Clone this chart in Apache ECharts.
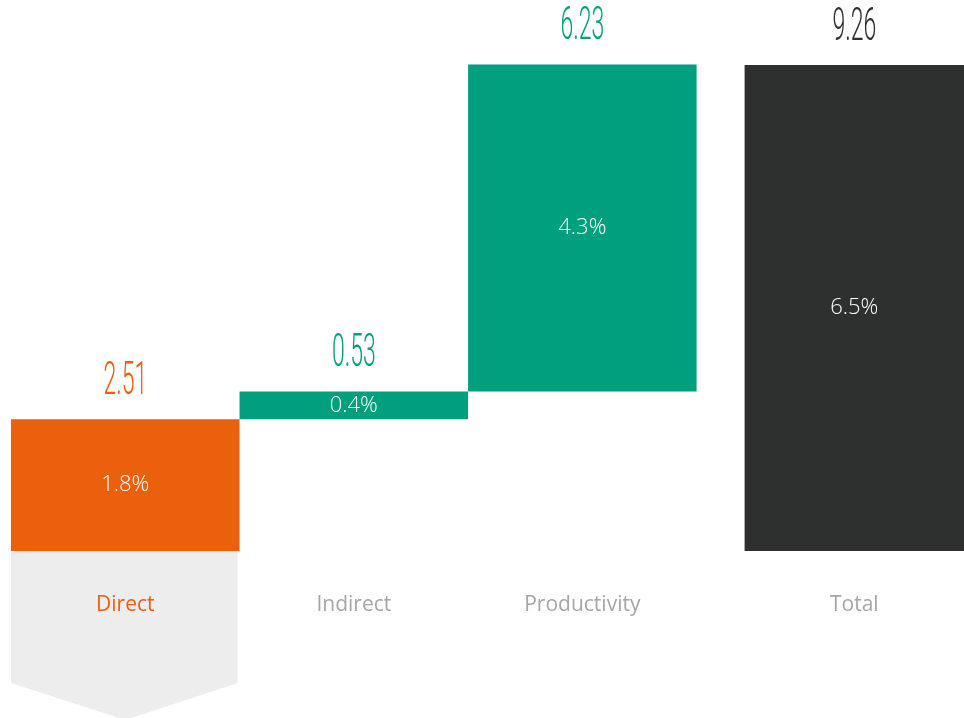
<!DOCTYPE html>
<html>
<head>
<meta charset="utf-8">
<script src="https://cdn.jsdelivr.net/npm/echarts@6/dist/echarts.min.js"></script>
<style>
html,body{margin:0;padding:0;background:#fff;}
#chart{width:964px;height:718px;}
</style>
</head>
<body>
<div id="chart"></div>
<script>
// ---- data ----
const categories = ['Direct', 'Indirect', 'Productivity', 'Total'];
const values = [2.51, 0.53, 6.23, 9.26];
const shares = ['1.8%', '0.4%', '4.3%', '6.5%'];
const isTotal = [false, false, false, true];

// ---- layout / style (not data) ----
const slotX = [0, 1, 2, 3.19];
const slotWidth = [1, 1, 1, 0.96];
const barColors = ['#EB600C', '#00A07F', '#00A07F', '#2E2F2F'];
const valueColors = ['#EB600C', '#00A07F', '#00A07F', '#2E2F2F'];
const catColors = ['#EB600C', '#A6A6A6', '#A6A6A6', '#A6A6A6'];

// waterfall start/end built from values
let running = 0;
const items = categories.map((c, i) => {
  let s, e;
  if (isTotal[i]) { s = 0; e = values[i]; }
  else { s = running; e = running + values[i]; running = e; }
  return [slotX[i], s, e, i];
});

const chart = echarts.init(document.getElementById('chart'));
chart.setOption({
  animation: false,
  grid: { left: 11, right: 0, top: 26.2, bottom: 167 },
  xAxis: { type: 'value', min: -0.5, max: 3.67, show: false },
  yAxis: { type: 'value', min: 0, max: 10, show: false },
  series: [{
    type: 'custom',
    silent: true,
    clip: false,
    data: items,
    renderItem: function (params, api) {
      const x = api.value(0), s = api.value(1), e = api.value(2), i = api.value(3);
      const w = api.size([slotWidth[i], 0])[0];
      const pb = api.coord([x, s]);
      const pt = api.coord([x, e]);
      const base = api.coord([x, 0])[1];
      const cx = pb[0];
      const l = cx - w / 2;
      const children = [];
      if (i === 0) {
        children.push({
          type: 'polygon',
          shape: { points: [[l, base], [l + w - 2, base], [l + w - 2, base + 132], [cx, base + 169], [l, base + 132]] },
          style: { fill: '#EDEDED' }
        });
      }
      children.push({
        type: 'rect',
        shape: { x: l, y: pt[1], width: w, height: pb[1] - pt[1] },
        style: { fill: barColors[i] }
      });
      children.push({
        type: 'text',
        x: cx, y: (pt[1] + pb[1]) / 2,
        style: { text: shares[i], fill: '#FFFFFF', fontSize: 22, fontWeight: 300, fontFamily: 'Open Sans', align: 'center', verticalAlign: 'middle' }
      });
      children.push({
        type: 'text',
        x: cx, y: pt[1] - 37,
        scaleX: 0.5,
        style: { text: values[i].toFixed(2), fill: valueColors[i], fontSize: 46, fontWeight: 300, fontFamily: 'Roboto', align: 'center', verticalAlign: 'middle' }
      });
      children.push({
        type: 'text',
        x: cx, y: base + 54,
        style: { text: categories[i], fill: catColors[i], fontSize: 21, fontFamily: 'Open Sans', align: 'center', verticalAlign: 'middle' }
      });
      return { type: 'group', children: children };
    }
  }]
});
</script>
</body>
</html>
